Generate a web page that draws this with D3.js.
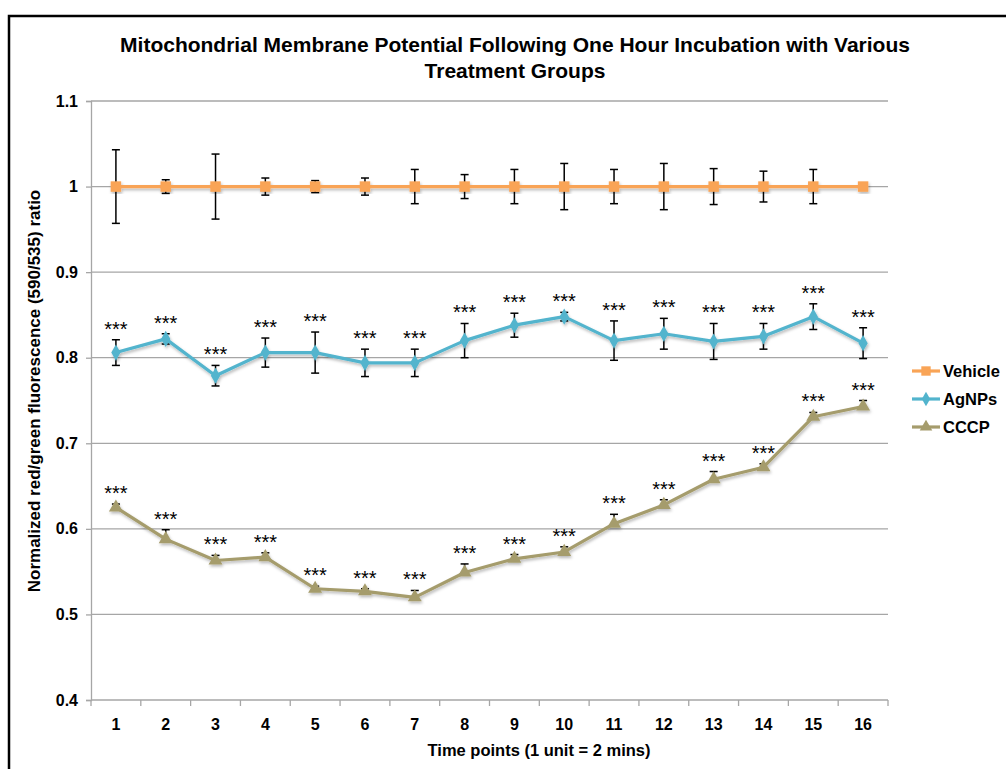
<!DOCTYPE html>
<html>
<head>
<meta charset="utf-8">
<script src="https://cdn.jsdelivr.net/npm/d3@7"></script>
<style>
  html, body { margin: 0; padding: 0; background: #fff; }
  svg { display: block; font-family: "Liberation Sans", Arial, Helvetica, sans-serif; }
</style>
</head>
<body>
<svg id="chart" width="1006" height="769"></svg>
<script>
// Time points (1 unit = 2 mins)
const timePoints = [1, 2, 3, 4, 5, 6, 7, 8, 9, 10, 11, 12, 13, 14, 15, 16];

// Normalized red/green (590/535) ratio per treatment group
const vehicle    = [1, 1, 1, 1, 1, 1, 1, 1, 1, 1, 1, 1, 1, 1, 1, 1];
const vehicleErr = [0.043, 0.008, 0.038, 0.010, 0.007, 0.010, 0.020, 0.014, 0.020, 0.027, 0.020, 0.027, 0.021, 0.018, 0.020, 0];

const agnps    = [0.806, 0.822, 0.779, 0.806, 0.806, 0.794, 0.794, 0.820, 0.838, 0.848, 0.820, 0.828, 0.819, 0.825, 0.848, 0.817];
const agnpsErr = [0.015, 0.006, 0.012, 0.017, 0.024, 0.016, 0.016, 0.020, 0.014, 0.005, 0.023, 0.018, 0.021, 0.015, 0.015, 0.018];

const cccp    = [0.625, 0.588, 0.563, 0.567, 0.530, 0.527, 0.520, 0.549, 0.565, 0.573, 0.606, 0.628, 0.658, 0.672, 0.731, 0.743];
const cccpErr = [0.004, 0.011, 0.006, 0.005, 0.003, 0.003, 0.008, 0.010, 0.005, 0.006, 0.011, 0.006, 0.009, 0.004, 0.005, 0.007];

const yTicks = [0.4, 0.5, 0.6, 0.7, 0.8, 0.9, 1.0, 1.1];
const yTickLabels = ["0.4", "0.5", "0.6", "0.7", "0.8", "0.9", "1", "1.1"];

const seriesNames = ["Vehicle", "AgNPs", "CCCP"];
const significance = "***";

const titleLines = [
  "Mitochondrial Membrane Potential Following One Hour Incubation with Various",
  "Treatment Groups"
];
const yAxisTitle = "Normalized red/green fluorescence (590/535) ratio";
const xAxisTitle = "Time points (1 unit = 2 mins)";

const series = [
  { name: seriesNames[0], values: vehicle, err: vehicleErr, color: "#F9A456", symbol: d3.symbolSquare, size: 110, plusOnly: false, stars: false },
  { name: seriesNames[1], values: agnps,   err: agnpsErr,   color: "#52B4CD", symbol: d3.symbolDiamond, size: 75, plusOnly: false, stars: true },
  { name: seriesNames[2], values: cccp,    err: cccpErr,    color: "#A59C6C", symbol: d3.symbolTriangle, size: 85, plusOnly: true, stars: true }
];

const svg = d3.select("#chart");

// soft shadow beneath lines and markers
const defs = svg.append("defs");
const f = defs.append("filter").attr("id", "shadow").attr("x", "-20%").attr("y", "-20%").attr("width", "140%").attr("height", "140%");
f.append("feDropShadow").attr("dx", 1).attr("dy", 2).attr("stdDeviation", 1.4)
  .attr("flood-color", "#000").attr("flood-opacity", 0.28);

// outer frame
svg.append("rect").attr("x", 9).attr("y", 16).attr("width", 1100).attr("height", 900)
  .attr("fill", "none").attr("stroke", "#000").attr("stroke-width", 2.5);

const plot = { left: 91, right: 888, top: 101, bottom: 700 };

const x = d3.scalePoint().domain(timePoints).range([plot.left, plot.right]).padding(0.5);
const y = d3.scaleLinear().domain([0.4, 1.1]).range([plot.bottom, plot.top]);

// title
svg.append("g").selectAll("text").data(titleLines).join("text")
  .attr("x", 515).attr("y", (d, i) => 52 + i * 26)
  .attr("text-anchor", "middle")
  .attr("font-size", 21).attr("font-weight", "bold").attr("fill", "#000")
  .text(d => d);

// horizontal gridlines
svg.append("g").selectAll("line").data(yTicks.filter(t => t > 0.4)).join("line")
  .attr("x1", plot.left).attr("x2", plot.right)
  .attr("y1", d => y(d)).attr("y2", d => y(d))
  .attr("stroke", "#a6a6a6").attr("stroke-width", 1.3);

// y axis
const yAxis = d3.axisLeft(y).tickValues(yTicks)
  .tickFormat((d, i) => yTickLabels[i]).tickSize(5).tickPadding(8);
const gy = svg.append("g").attr("transform", `translate(${plot.left},0)`).call(yAxis);
gy.select(".domain").attr("stroke", "#a6a6a6").attr("stroke-width", 1.3);
gy.selectAll(".tick line").attr("stroke", "#a6a6a6").attr("stroke-width", 1.3);
gy.selectAll(".tick text").attr("font-size", 16).attr("font-weight", "bold")
  .attr("font-family", "Liberation Sans, Arial, sans-serif").attr("fill", "#000");

// x axis: line plus ticks at category boundaries
const gx = svg.append("g").attr("transform", `translate(0,${plot.bottom})`);
gx.append("line").attr("x1", plot.left).attr("x2", plot.right).attr("y1", 0).attr("y2", 0)
  .attr("stroke", "#a6a6a6").attr("stroke-width", 1.3);
const step = x.step();
const boundaries = d3.range(timePoints.length + 1).map(i => plot.left + i * step);
gx.selectAll("line.tk").data(boundaries).join("line").attr("class", "tk")
  .attr("x1", d => d).attr("x2", d => d).attr("y1", 0).attr("y2", 6)
  .attr("stroke", "#a6a6a6").attr("stroke-width", 1.3);
gx.selectAll("text").data(timePoints).join("text")
  .attr("x", d => x(d)).attr("y", 30)
  .attr("text-anchor", "middle").attr("font-size", 16).attr("font-weight", "bold").attr("fill", "#000")
  .text(d => d);

// axis titles
svg.append("text").attr("x", 539).attr("y", 756)
  .attr("text-anchor", "middle").attr("font-size", 16.5).attr("font-weight", "bold").attr("fill", "#000")
  .text(xAxisTitle);
svg.append("text").attr("transform", "translate(40,391) rotate(-90)")
  .attr("text-anchor", "middle").attr("font-size", 17).attr("font-weight", "bold").attr("fill", "#000")
  .text(yAxisTitle);

// error bars
const capHalf = 4;
series.forEach(s => {
  const g = svg.append("g");
  s.values.forEach((v, i) => {
    const e = s.err[i];
    if (!e) return;
    const cx = x(timePoints[i]);
    const top = y(v + e);
    const bot = s.plusOnly ? y(v) : y(v - e);
    g.append("line").attr("x1", cx).attr("x2", cx).attr("y1", top).attr("y2", bot)
      .attr("stroke", "#000").attr("stroke-width", 1.5);
    g.append("line").attr("x1", cx - capHalf).attr("x2", cx + capHalf).attr("y1", top).attr("y2", top)
      .attr("stroke", "#000").attr("stroke-width", 1.5);
    if (!s.plusOnly) {
      g.append("line").attr("x1", cx - capHalf).attr("x2", cx + capHalf).attr("y1", bot).attr("y2", bot)
        .attr("stroke", "#000").attr("stroke-width", 1.5);
    }
  });
});

// series lines and markers
const line = d3.line().x((d, i) => x(timePoints[i])).y(d => y(d));
series.forEach(s => {
  const g = svg.append("g").attr("filter", "url(#shadow)");
  g.append("path").datum(s.values).attr("d", line)
    .attr("fill", "none").attr("stroke", s.color).attr("stroke-width", 3.2).attr("stroke-linejoin", "round");
  g.selectAll("path.m").data(s.values).join("path").attr("class", "m")
    .attr("transform", (d, i) => `translate(${x(timePoints[i])},${y(d)})`)
    .attr("d", d3.symbol().type(s.symbol).size(s.size))
    .attr("fill", s.color);
});

// significance markers above the error bars
series.filter(s => s.stars).forEach(s => {
  svg.append("g").selectAll("text").data(s.values).join("text")
    .attr("x", (d, i) => x(timePoints[i]))
    .attr("y", (d, i) => y(d + s.err[i]) - 15 + 11)
    .attr("text-anchor", "middle").attr("font-size", 20).attr("fill", "#000")
    .text(significance);
});

// legend
const legend = svg.append("g");
series.forEach((s, i) => {
  const ly = 371 + i * 28;
  const g = legend.append("g");
  g.append("line").attr("x1", 912).attr("x2", 940).attr("y1", ly).attr("y2", ly)
    .attr("stroke", s.color).attr("stroke-width", 3.2);
  g.append("path").attr("transform", `translate(926,${ly})`)
    .attr("d", d3.symbol().type(s.symbol).size(s.size * 0.8)).attr("fill", s.color);
  g.append("text").attr("x", 943).attr("y", ly).attr("dy", "0.35em")
    .attr("font-size", 16.5).attr("font-weight", "bold").attr("fill", "#000")
    .text(s.name);
});
</script>
</body>
</html>
